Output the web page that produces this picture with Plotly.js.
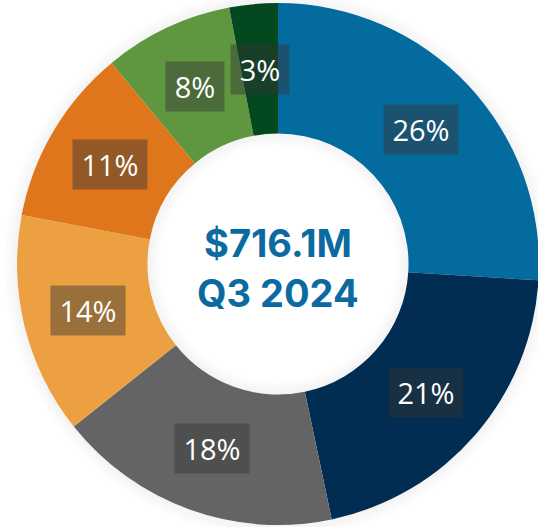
<!DOCTYPE html>
<html>
<head>
<meta charset="utf-8">
<script src="https://cdn.plot.ly/plotly-3.0.1.min.js"></script>
<style>
html,body{margin:0;padding:0;background:#fff;overflow:hidden;}
#chart{width:540px;height:527px;}
</style>
</head>
<body>
<div id="chart"></div>
<script>
// Segment shares (percent of total), clockwise from 12 o'clock
const segments = ["Segment A", "Segment B", "Segment C", "Segment D", "Segment E", "Segment F", "Segment G"];
const shares = [26.0, 20.7, 17.6, 13.7, 11.0, 8.0, 3.0];
const colors = ["#046b9f", "#002d51", "#646464", "#eca042", "#e0761c", "#5f9741", "#03481f"];
const centerLine1 = "$716.1M";
const centerLine2 = "Q3 2024";

const HOLE = 0.5;
const PLOT = 522; // square plot area in px
const total = shares.reduce((a, b) => a + b, 0);

// label annotations at the middle of each slice (computed from the data)
const annotations = [];
let cum = 0;
const rMid = (1 + HOLE) / 2;
shares.forEach((v) => {
  const mid = (cum + v / 2) / total * 2 * Math.PI;
  cum += v;
  const txt = Math.round(v / total * 100) + "%";
  annotations.push({
    xref: "paper", yref: "paper",
    x: 0.5 + 0.5 * rMid * Math.sin(mid),
    y: 0.5 + 0.5 * rMid * Math.cos(mid),
    text: txt,
    showarrow: false,
    font: {family: "Open Sans, sans-serif", size: 29, color: "#ffffff"},
    bgcolor: "rgba(54,54,54,0.45)",
    width: txt.length > 2 ? 72 : 56, height: 47,
    xanchor: "center", yanchor: "middle"
  });
});
annotations.push({
  xref: "paper", yref: "paper", x: 0.5, y: 0.5 + 21 / PLOT,
  text: "<b>" + centerLine1 + "</b>", showarrow: false,
  font: {family: "Inter, sans-serif", size: 38, color: "#0b6a9f"},
  xanchor: "center", yanchor: "middle"
});
annotations.push({
  xref: "paper", yref: "paper", x: 0.5, y: 0.5 - 29 / PLOT,
  text: "<b>" + centerLine2 + "</b>", showarrow: false,
  font: {family: "Inter, sans-serif", size: 38, color: "#0b6a9f"},
  xanchor: "center", yanchor: "middle"
});

// soft shadow rings around the donut and inside the hole
const shapes = [];
for (let i = 0; i < 9; i++) {
  const d = (i * 1.5 + 0.75) / PLOT;
  shapes.push({
    type: "circle", xref: "paper", yref: "paper", layer: "below",
    x0: 0 - d, x1: 1 + d, y0: 0 - d, y1: 1 + d,
    line: {color: "rgba(0,0,0," + (0.045 * (1 - i / 9)).toFixed(3) + ")", width: 1.6},
    fillcolor: "rgba(0,0,0,0)"
  });
}
for (let i = 0; i < 9; i++) {
  const r = 0.5 * HOLE - (i * 1.5 + 0.75) / PLOT;
  shapes.push({
    type: "circle", xref: "paper", yref: "paper", layer: "above",
    x0: 0.5 - r, x1: 0.5 + r, y0: 0.5 - r, y1: 0.5 + r,
    line: {color: "rgba(0,0,0," + (0.045 * (1 - i / 9)).toFixed(3) + ")", width: 1.6},
    fillcolor: "rgba(0,0,0,0)"
  });
}

const data = [{
  type: "pie",
  labels: segments,
  values: shares,
  hole: HOLE,
  sort: false,
  direction: "clockwise",
  rotation: 0,
  marker: {colors: colors, line: {width: 0}},
  textinfo: "none",
  hoverinfo: "label+percent",
  showlegend: false
}];

const layout = {
  width: 540, height: 527,
  margin: {l: 17, r: 1, t: 3, b: 2, pad: 0},
  paper_bgcolor: "#ffffff",
  plot_bgcolor: "#ffffff",
  showlegend: false,
  annotations: annotations,
  shapes: shapes
};

Plotly.newPlot("chart", data, layout, {displayModeBar: false, staticPlot: true});
</script>
</body>
</html>
